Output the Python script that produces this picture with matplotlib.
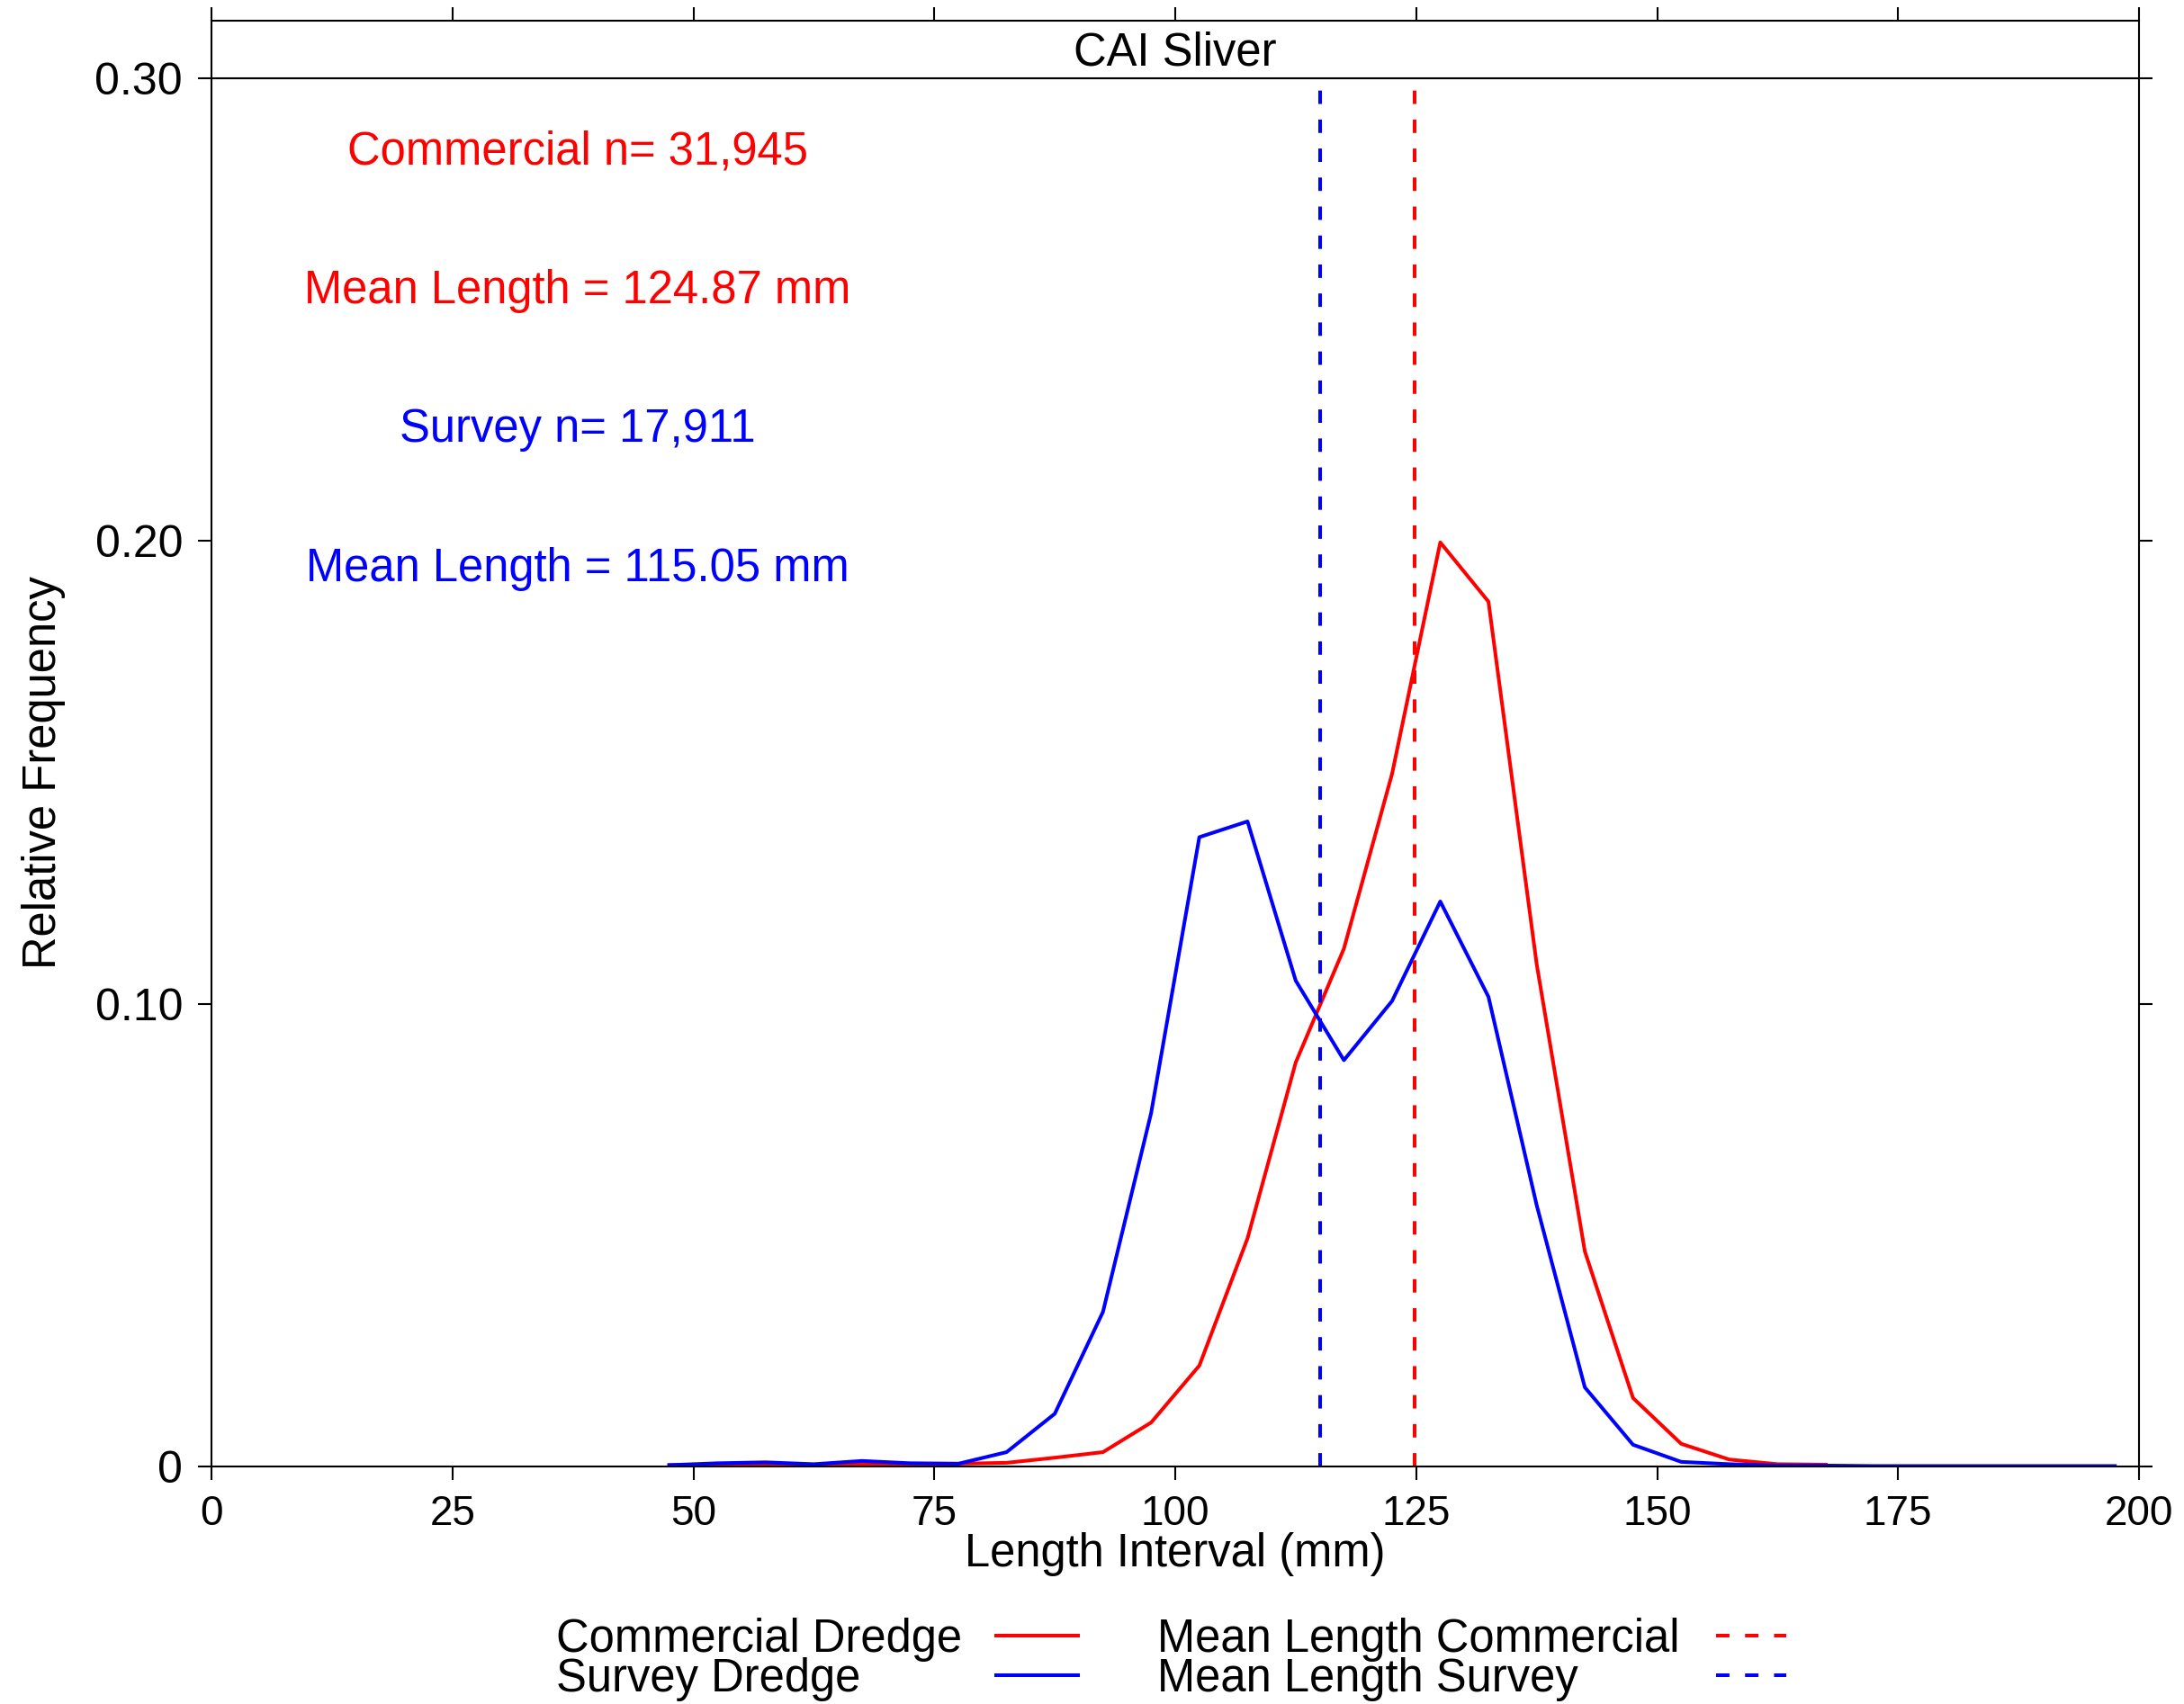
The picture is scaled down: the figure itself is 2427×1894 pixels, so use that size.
import matplotlib
matplotlib.use("Agg")
import matplotlib.pyplot as plt
from matplotlib.lines import Line2D
from matplotlib.ticker import FixedLocator, FuncFormatter

plt.rcParams['font.family'] = ['Liberation Sans', 'DejaVu Sans']

# length interval midpoints (mm) and relative frequencies
comm_len = [47.5, 52.5, 57.5, 62.5, 67.5, 72.5, 77.5, 82.5, 87.5, 92.5, 97.5,
            102.5, 107.5, 112.5, 117.5, 122.5, 127.5, 132.5, 137.5, 142.5,
            147.5, 152.5, 157.5, 162.5, 167.5]
comm_freq = [0.0003, 0.0003, 0.0004, 0.0003, 0.0005, 0.0006, 0.0006, 0.0008,
             0.0019, 0.0031, 0.0095, 0.0218, 0.0493, 0.0873, 0.1119, 0.1497,
             0.1997, 0.1869, 0.1086, 0.0465, 0.0148, 0.0049, 0.0015, 0.0005,
             0.0004]

surv_len = [47.5, 52.5, 57.5, 62.5, 67.5, 72.5, 77.5, 82.5, 87.5, 92.5, 97.5,
            102.5, 107.5, 112.5, 117.5, 122.5, 127.5, 132.5, 137.5, 142.5,
            147.5, 152.5, 157.5, 162.5, 167.5, 172.5, 177.5, 182.5, 187.5,
            192.5, 197.5]
surv_freq = [0.0003, 0.0007, 0.0009, 0.0005, 0.0012, 0.0007, 0.0006, 0.0031,
             0.0114, 0.0334, 0.0764, 0.1360, 0.1394, 0.1050, 0.0878, 0.1006,
             0.1221, 0.1015, 0.0565, 0.0171, 0.0047, 0.0010, 0.0005, 0.0002,
             0.0002, 0.0001, 0.0001, 0.0001, 0.0001, 0.0001, 0.0001]

comm_n = 31945
surv_n = 17911
comm_mean = 124.87
surv_mean = 115.05

x_ticks = [0, 25, 50, 75, 100, 125, 150, 175, 200]
y_ticks = [0, 0.10, 0.20, 0.30]

text_fs = 36.5
lw = 2.9
dash = (3.7, 4.3)

fig = plt.figure(figsize=(24.27, 18.94), dpi=100)
W, H = 2427, 1894
left, right = 235 / W, 2377 / W
bottom, top = 1 - 1630 / H, 1 - 87 / H
strip_top = 1 - 23 / H

ax = fig.add_axes([left, bottom, right - left, top - bottom])
strip = fig.add_axes([left, top, right - left, strip_top - top], sharex=ax)

ax.plot(comm_len, comm_freq, color='red', lw=lw)
ax.plot(surv_len, surv_freq, color='blue', lw=lw)
ax.axvline(comm_mean, color='red', lw=lw, dashes=dash)
ax.axvline(surv_mean, color='blue', lw=lw, dashes=dash)

ax.set_xlim(0, 200)
ax.set_ylim(0, 0.30)
ax.xaxis.set_major_locator(FixedLocator(x_ticks))
ax.yaxis.set_major_locator(FixedLocator(y_ticks))
ax.yaxis.set_major_formatter(FuncFormatter(lambda v, p: '0' if v == 0 else f'{v:.2f}'))
ax.tick_params(axis='both', direction='out', length=11, width=1.5)
ax.tick_params(axis='x', top=False, bottom=True, labelsize=33, pad=11)
ax.tick_params(axis='y', right=True, left=True, labelsize=36, pad=12)
for s in ax.spines.values():
    s.set_linewidth(1.5)

ax.set_xlabel('Length Interval (mm)', fontsize=text_fs, va='top')
ax.xaxis.set_label_coords(0.5, -0.047)
ax.set_ylabel('Relative Frequency', fontsize=text_fs)
ax.yaxis.set_label_coords(-0.0755, 0.5)

# sample sizes and means
ax.text(38, 0.284, f'Commercial n= {comm_n:,}', color='red', fontsize=text_fs,
        ha='center', va='center')
ax.text(38, 0.254, f'Mean Length = {comm_mean:.2f} mm', color='red',
        fontsize=text_fs, ha='center', va='center')
ax.text(38, 0.224, f'Survey n= {surv_n:,}', color='blue', fontsize=text_fs,
        ha='center', va='center')
ax.text(38, 0.194, f'Mean Length = {surv_mean:.2f} mm', color='blue',
        fontsize=text_fs, ha='center', va='center')

# strip header
strip.set_yticks([])
strip.tick_params(axis='x', direction='out', length=11, width=1.5,
                  top=True, bottom=False, labeltop=False, labelbottom=False)
for s in strip.spines.values():
    s.set_linewidth(1.5)
strip.text(0.5, 0.44, 'CAI Sliver', transform=strip.transAxes, fontsize=text_fs,
           ha='center', va='center')

# key below the plot
def key_row(y, label, x_text, x0, x1, color, dashed):
    fig.text(x_text / W, 1 - (y + 18) / H, label, fontsize=text_fs,
             ha='left', va='baseline')
    ln = Line2D([x0 / W, x1 / W], [1 - y / H, 1 - y / H], color=color, lw=lw,
                transform=fig.transFigure)
    if dashed:
        ln.set_dashes(dash)
    fig.add_artist(ln)

key_row(1818, 'Commercial Dredge', 618, 1107, 1198, 'red', False)
key_row(1862, 'Survey Dredge', 618, 1107, 1198, 'blue', False)
key_row(1818, 'Mean Length Commercial', 1286, 1907, 1985, 'red', True)
key_row(1862, 'Mean Length Survey', 1286, 1907, 1985, 'blue', True)

fig.savefig('out.png', dpi=100)
